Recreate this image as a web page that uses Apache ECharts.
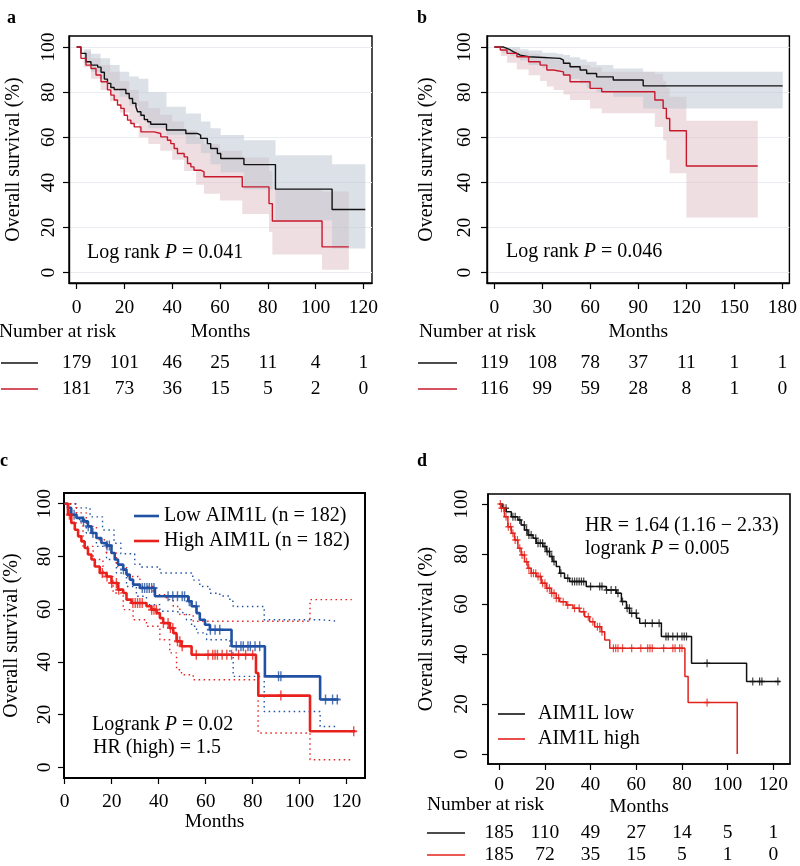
<!DOCTYPE html>
<html><head><meta charset="utf-8">
<script src="https://cdn.jsdelivr.net/npm/echarts@6/dist/echarts.min.js"></script>
<style>html,body{margin:0;padding:0;background:#fff}#c{width:800px;height:866px}</style>
</head><body><div id="c"></div>
<script>
// ================= DATA =================
const yTicks = [0, 20, 40, 60, 80, 100];
const ticksA = [0, 20, 40, 60, 80, 100, 120];
const ticksB = [0, 30, 60, 90, 120, 150, 180];
const ticksC = [0, 20, 40, 60, 80, 100, 120];
const ticksD = [0, 20, 40, 60, 80, 100, 120];

// Panel a
const aBlackT = [0,1.8,3.9,6,8.8,10.2,11.6,12.9,14.3,15.7,20.6,22,23.4,24.8,25.5,26.9,28.3,29.7,31,37.6,45.7,50.5,51.9,54.7,56.1,58.9,60.3,70,83.2,106.9,120.8];
const aBlackS = [100,97.2,93.5,92,91.1,88.8,85.8,83.9,82.1,81.2,79.4,77.2,75.1,73.5,71.3,69.8,67.9,66.9,65.8,63.2,61.7,61,59.5,57.2,55,52.8,50.6,47.9,37,28,28];
const aRedT = [0,1.8,3.9,6,8.1,10.2,12.9,14.3,15.7,17.1,18.5,19.9,21.3,22.7,24.1,26.9,32.4,35.2,38,39.4,40.8,42.2,45,46.4,47.8,49.1,51.9,53.3,69.3,80.5,81.9,102.7,113.9];
const aRedS = [100,95,92,90.5,87.6,84.6,81,78.7,76.5,74.3,72.8,69.8,67.6,66.1,64.6,62.4,61.7,60.2,58.7,57.2,55,52.8,51.3,48.4,46.9,45.4,44.7,42.5,38,30.6,22.9,11.4,11.4];
const aBlackBandT  = [0,3,6,10,14,18,22,26,30,37.6,45.7,52,56,60.3,70,83.2,106.9,120.8];
const aBlackBandHi = [100,99,97,95,92,89,87,86,80,73.5,70.5,67,64,61,58.7,52,48,48];
const aBlackBandLo = [100,93,89,86,82,78,74,69,64,61,57,53,48,44.5,37,23.2,10.7,10.7];
const aRedBandT  = [0,3,6,10,14,18,22,26,30,35,40,45,50,53.3,60,69.3,80.5,81.9,102.7,113.9];
const aRedBandHi = [100,98,95,92,89,85,81,76,73,70,67,63,60,57,54,51,45,37,36,36];
const aRedBandLo = [100,91,86,81,76,71,66,60,57,54,50,45,39,35,32,26,18,8,1.3,1.3];
const aRiskBlack = [179,101,46,25,11,4,1];
const aRiskRed   = [181,73,36,15,5,2,0];

// Panel b
const bBlackT = [0,5.8,7.9,10,12,14.1,16.2,21.4,41.1,43.2,47.3,53.6,57.7,63.9,74.3,93,180.2];
const bBlackS = [100,99.4,98.7,97.9,97.2,96.4,95.7,95,94.2,92.8,91.3,89.8,88.3,86.8,85.4,82.8,82.8];
const bRedT = [0,3.7,7.9,14.1,21.4,28.6,32.8,37,43.2,47.3,59.8,67.1,100.3,105.5,107.5,109.6,120,164.6];
const bRedS = [100,98.7,97.2,95.7,93.5,92,89.8,89,87.6,84.6,81.7,80.2,76.5,72.8,68.3,62.9,47.3,47.3];
const bBlackBandT  = [0,5,10,16,21.4,30,39,43,47.3,53.6,57.7,63.9,74.3,93,180.2];
const bBlackBandHi = [100,100,100,99,98.5,97.5,97,96.5,95.5,94.5,93.5,92,90.5,89,89];
const bBlackBandLo = [100,97.5,96,94,92,90.5,89,87.5,86,84,82,80,78,72.8,72.8];
const bRedBandT  = [0,4,8,14,21.4,28.6,32.8,37,43.2,47.3,59.8,67.1,100.3,105.5,107.5,109.6,120,164.6];
const bRedBandHi = [100,99.5,99,98,97,96,95,94.5,93.5,92,91,89,88,85,82,78,67.3,67.3];
const bRedBandLo = [100,96,93,90,87.5,85,82.5,81,79,76.5,72.8,70.6,64.6,58.7,50,44,24.4,24.4];
const bRiskBlack = [119,108,78,37,11,1,1];
const bRiskRed   = [116,99,59,28,8,1,0];

// Panel c
const cBlueT = [0,1.4,2.8,5,7.8,9.9,11.4,13.5,15.6,17.8,19.9,21.3,22.7,24.9,26.3,27.7,29.1,32,38.4,52.6,54,56.1,57.5,59.7,61.8,71,85.2,108.7,116.5];
const cBlueS = [100,98.4,95.8,94.6,93.3,91.4,88.9,87,85.1,84.1,81.3,78.8,76.9,75,73.1,71.2,69.3,68,64.9,63,61.1,58.5,56,54.1,52.2,45.9,34.5,25.7,25.7];
const cRedT = [0,1.4,2.8,4.3,5.7,7.1,8.5,9.9,11.4,12.8,14.9,17.8,19.9,22.7,24.9,26.3,28.4,34.8,36.9,39.1,40.5,41.9,44.7,46.2,47.6,49.7,54,81.4,82.4,104.4,123.6];
const cRedS = [100,95.8,92.7,90.1,87.6,85.7,83.2,80.7,78.8,76.2,73.7,72.4,69.9,67.4,66.1,63.6,62.3,61.1,59.8,58.5,56.6,54.7,52.8,50.9,47.8,45.9,42.7,35.8,27.2,13.7,13.7];
const cBlueHiT = [0,5,10.8,16.1,21,23.9,29.8,32.7,40.5,54.5,57.5,61.8,66,70.3,71.7,84.9,108.7,116.5];
const cBlueHiS = [100,98.4,95,90,85,81,77,76,73.7,71,68.6,66,65,63,61,56,55.4,55.4];
const cBlueLoT = [0,5,9.2,13.5,17.8,22,26.3,30.5,34.8,40.5,46.2,51.8,54,56.1,60.4,70.3,71.7,84.9,108.7,116.5];
const cBlueLoS = [100,94,88.9,83.8,78.8,73.7,68.6,64.9,61.7,59.2,58.5,56,53.5,51,48.4,43.4,34.5,21.2,15.5,15.5];
const cRedHiT = [0,5,9.2,13.5,17.8,22,26.3,32,37.6,43.3,46.2,49,54.7,104.4,122.2];
const cRedHiS = [100,96.5,91.4,86.3,81.3,76.2,72.4,68.6,65.5,63.6,61,57.9,55.4,63.6,63.6];
const cRedLoT = [0,2.8,7.8,12.1,16.3,20.6,24.9,29.1,34.8,40.5,44.7,47.6,49.7,54.7,82.3,104.4,122.2];
const cRedLoS = [100,92.7,83.8,78.8,72.4,66.1,59.8,56,53.5,48.4,43.4,37,35.1,33.2,13,2.9,2.9];
const cBlueCensor = [4,8,10,12,18,19,25,33,34,35,36,37,38,44,46,48,50,51,53,56,62,64,66,73,75,76,78,79,81,83,91,92,111,114,116];
const cRedCensor = [2,16,18,20,22,23,29,30,31,32,33,37,38,39,42,44,45,46,48,49,50,56,61,63,64,65,67,69,71,74,77,80,92,123];

// Panel d
const dBlackT = [0,1.6,3.1,5.3,8.2,9.6,11.1,12.6,14.8,16.2,19.1,20.6,22.1,23.5,25,26.5,28.6,30.8,38.1,46.9,51.3,53.5,55.7,57.1,60.1,61.5,71,84.2,108.3,122.9];
const dBlackS = [100,98.3,96.9,94.9,93.6,91.6,89.6,87.6,86.3,84.3,83,81,79,77,75,72.3,70.3,69,67,65.6,64.3,61,58.3,56.3,54.3,52.3,47,36.3,29,29];
const dRedT = [0,0.9,2.3,3.8,5.3,6.7,8.2,9.6,11.1,12.6,14,16.2,18.4,20.6,22.8,25,26.5,29.4,32.3,35.2,37.4,39.6,41.8,44.7,46.2,48.4,81.3,82.7,104.2];
const dRedS = [100,98.3,94.9,90.9,88.3,85.6,82.3,79.6,76.9,74.3,72.3,71,68.3,66.3,64.3,62.3,60.9,59.6,58.3,56.9,54.9,52.9,50.9,48.9,45.6,42.3,31,20.6,0];
const dBlackCensor = [3,6,7,9,11,12,13,14,16,17,18,19,20,21,22,23,24,27,30,32,33,34,35,36,37,40,44,45,47,49,51,52,54,56,57,58,60,64,67,70,73,74,76,78,80,81,82,91,111,114,115,122];
const dRedCensor = [0.5,1,2,3,4,5,6,7,8,9,10,11,12,13,14,15,16,17,18,19,20,21,22,23,24,25,26,28,30,33,35,37,39,41,43,44,45,50,51,52,54,58,62,65,66,67,72,76,77,79,80,91];
const dRiskBlack = [185,110,49,27,14,5,1];
const dRiskRed   = [185,72,35,15,5,1,0];

// ================= BUILD =================
const FONT = "'Liberation Serif','Times New Roman',serif";
const grids = [], xAxes = [], yAxes = [], series = [];
const zip = (T, S) => T.map((t, i) => [t, S[i]]);
function survAt(T, S, t) { let v = S[0]; for (let i = 0; i < T.length; i++) { if (T[i] <= t) v = S[i]; } return v; }
const PLUS = 'path://M4,0h2v4h4v2h-4v4h-2v-4h-4v-2h4z';

function addPanel(p) {
  const gi = grids.length;
  grids.push({left: p.left, top: p.top, width: p.width, height: p.height, show: true,
    borderColor: '#000', borderWidth: p.bw, backgroundColor: 'rgba(0,0,0,0)'});
  const xi = xAxes.length;
  xAxes.push({type: 'value', gridIndex: gi, min: p.xmin, max: p.xmax, position: 'bottom',
    name: 'Months', nameLocation: 'middle', nameGap: p.xNameGap, nameMoveOverlap: false,
    nameTextStyle: {fontFamily: FONT, fontSize: 19.5, color: '#000'},
    axisLine: {show: true, onZero: false, lineStyle: {color: '#000', width: p.bw}},
    axisTick: {show: true, length: 6, customValues: p.xticks, lineStyle: {color: '#000', width: 1.2}},
    axisLabel: {customValues: p.xticks, margin: p.xLabelMargin, fontFamily: FONT, fontSize: 19.5, color: '#000'},
    splitLine: {show: false}});
  const yi = yAxes.length;
  yAxes.push({type: 'value', gridIndex: gi, min: p.ymin, max: p.ymax, position: 'left',
    name: 'Overall survival (%)', nameLocation: 'middle', nameGap: p.yNameGap, nameRotate: 90, nameMoveOverlap: false,
    nameTextStyle: {fontFamily: FONT, fontSize: 20, color: '#000'},
    axisLine: {show: true, onZero: false, lineStyle: {color: '#000', width: p.bw}},
    axisTick: {show: true, length: 6, customValues: yTicks, lineStyle: {color: '#000', width: 1.2}},
    axisLabel: {customValues: yTicks, rotate: 90, margin: p.yLabelMargin, fontFamily: FONT, fontSize: 19.5, color: '#000'},
    splitLine: {show: false}});
  if (p.gridLines) {
    // separate, label-less axis that only carries the light horizontal grid lines
    yAxes.push({type: 'value', gridIndex: gi, min: p.ymin, max: p.ymax, position: 'right',
      axisLine: {show: false, onZero: false}, axisLabel: {show: false},
      axisTick: {show: false, customValues: yTicks},
      splitLine: {show: true, lineStyle: {color: '#e9edf2', width: 1}}});
  }
  if (p.risk) {
    p.risk.forEach((r) => {
      xAxes.push({type: 'value', gridIndex: gi, min: p.xmin, max: p.xmax, position: 'bottom', offset: r.offset,
        axisLine: {show: false, onZero: false}, axisTick: {show: false}, splitLine: {show: false},
        axisLabel: {customValues: p.xticks, margin: 0, verticalAlign: 'middle',
          formatter: (v) => String(r.values[p.xticks.indexOf(v)]),
          fontFamily: FONT, fontSize: 19.5, color: '#000'},
        name: '{l| }', nameLocation: 'start', nameGap: p.riskGap, nameMoveOverlap: false,
        nameTextStyle: {verticalAlign: 'middle', rich: {l: {width: p.riskLineW, height: 1.4, backgroundColor: r.color, fontSize: 2, lineHeight: 1.4}}}
      });
    });
  }
  return {xi, yi};
}

function band(ax, T, Lo, Hi, color) {
  series.push({type: 'custom', xAxisIndex: ax.xi, yAxisIndex: ax.yi, silent: true, z: 1,
    data: [[T[0], Hi[0]]],
    renderItem: function (params, api) {
      const pts = [];
      for (let i = 0; i < T.length - 1; i++) { pts.push(api.coord([T[i], Hi[i]])); pts.push(api.coord([T[i + 1], Hi[i]])); }
      for (let i = T.length - 2; i >= 0; i--) { pts.push(api.coord([T[i + 1], Lo[i]])); pts.push(api.coord([T[i], Lo[i]])); }
      return {type: 'polygon', shape: {points: pts}, style: {fill: color}};
    }});
}
function curve(ax, name, T, S, color, width, extra) {
  series.push(Object.assign({type: 'line', name: name, xAxisIndex: ax.xi, yAxisIndex: ax.yi, step: 'end',
    symbol: 'none', data: zip(T, S), lineStyle: {color: color, width: width}, itemStyle: {color: color},
    silent: true, z: 5}, extra || {}));
}
function censor(ax, T, S, C, color, size) {
  series.push({type: 'scatter', xAxisIndex: ax.xi, yAxisIndex: ax.yi, symbol: PLUS, symbolSize: size,
    itemStyle: {color: color}, silent: true, z: 6, data: C.map((t) => [t, survAt(T, S, t)])});
}

const BLACK = '#111111', RED_AB = '#c8182c';
const BAND_GRAY = 'rgba(185,196,208,0.5)', BAND_PINK = 'rgba(222,190,196,0.5)';

// ---- a ----
const A = addPanel({left: 68, top: 36, width: 304, height: 247, bw: 1.4, xmin: -3.2, xmax: 123.6, ymin: -4.6, ymax: 104.9,
  xticks: ticksA, xNameGap: 39, xLabelMargin: 15, yNameGap: 45, yLabelMargin: 10.5, gridLines: true,
  risk: [{offset: 80, values: aRiskBlack, color: BLACK}, {offset: 106, values: aRiskRed, color: RED_AB}], riskGap: 31, riskLineW: 37});
band(A, aRedBandT, aRedBandLo, aRedBandHi, BAND_PINK);
band(A, aBlackBandT, aBlackBandLo, aBlackBandHi, BAND_GRAY);
curve(A, 'a-black', aBlackT, aBlackS, BLACK, 1.4);
curve(A, 'a-red', aRedT, aRedS, RED_AB, 1.4);

// ---- b ----
const B = addPanel({left: 487, top: 36, width: 303, height: 247, bw: 1.4, xmin: -4.6, xmax: 184.4, ymin: -4.6, ymax: 104.9,
  xticks: ticksB, xNameGap: 39, xLabelMargin: 15, yNameGap: 50, yLabelMargin: 12.5, gridLines: true,
  risk: [{offset: 80, values: bRiskBlack, color: BLACK}, {offset: 106, values: bRiskRed, color: RED_AB}], riskGap: 30, riskLineW: 39});
band(B, bRedBandT, bRedBandLo, bRedBandHi, BAND_PINK);
band(B, bBlackBandT, bBlackBandLo, bBlackBandHi, BAND_GRAY);
curve(B, 'b-black', bBlackT, bBlackS, BLACK, 1.4);
curve(B, 'b-red', bRedT, bRedS, RED_AB, 1.4);

// ---- c ----
const BLUE_C = '#2051a3', RED_C = '#e8211d';
const C = addPanel({left: 64, top: 493, width: 301, height: 285, bw: 2, xmin: -0.3, xmax: 127.8, ymin: -4.05, ymax: 104.05,
  xticks: ticksC, xNameGap: 34, xLabelMargin: 14, yNameGap: 42, yLabelMargin: 9, gridLines: false});
const DOT = {type: [1.5, 3.5]};
curve(C, 'c-blue-hi', cBlueHiT, cBlueHiS, BLUE_C, 1.4, {lineStyle: Object.assign({color: BLUE_C, width: 1.4}, DOT), z: 3});
curve(C, 'c-blue-lo', cBlueLoT, cBlueLoS, BLUE_C, 1.4, {lineStyle: Object.assign({color: BLUE_C, width: 1.4}, DOT), z: 3});
curve(C, 'c-red-hi', cRedHiT, cRedHiS, RED_C, 1.4, {lineStyle: Object.assign({color: RED_C, width: 1.4}, DOT), z: 3});
curve(C, 'c-red-lo', cRedLoT, cRedLoS, RED_C, 1.4, {lineStyle: Object.assign({color: RED_C, width: 1.4}, DOT), z: 3});
curve(C, 'Low AIM1L (n = 182)', cBlueT, cBlueS, BLUE_C, 2.6);
curve(C, 'High AIM1L (n = 182)', cRedT, cRedS, RED_C, 2.6);
censor(C, cBlueT, cBlueS, cBlueCensor, BLUE_C, [7, 10]);
censor(C, cRedT, cRedS, cRedCensor, RED_C, [7, 10]);

// ---- d ----
const RED_D = '#e2231c';
const D = addPanel({left: 488, top: 494, width: 302, height: 270, bw: 1.6, xmin: -4.9, xmax: 127.3, ymin: -4, ymax: 104,
  xticks: ticksD, xNameGap: 33, xLabelMargin: 11, yNameGap: 51, yLabelMargin: 16, gridLines: false,
  risk: [{offset: 69, values: dRiskBlack, color: BLACK}, {offset: 91, values: dRiskRed, color: RED_D}], riskGap: 23, riskLineW: 38});
curve(D, 'AIM1L low', dBlackT, dBlackS, BLACK, 1.5);
curve(D, 'AIM1L high', dRedT, dRedS, RED_D, 1.5);
censor(D, dBlackT, dBlackS, dBlackCensor, BLACK, [6, 8]);
censor(D, dRedT, dRedS, dRedCensor, RED_D, [6, 8]);

// ---- texts ----
function txt(x, y, text, extra) {
  return {type: 'text', x: x, y: y, silent: true, z: 100,
    style: Object.assign({text: text, fill: '#000', fontFamily: FONT, fontSize: 20, align: 'left', verticalAlign: 'middle',
      rich: {i: {fontStyle: 'italic', fontFamily: FONT, fontSize: 20, fill: '#000'}}}, extra || {})};
}
const graphic = [
  txt(7, 18, 'a', {fontWeight: 'bold', fontSize: 18}),
  txt(417, 18, 'b', {fontWeight: 'bold', fontSize: 18}),
  txt(0, 461, 'c', {fontWeight: 'bold', fontSize: 18}),
  txt(417, 461, 'd', {fontWeight: 'bold', fontSize: 18}),
  txt(87, 253, 'Log rank {i|P} = 0.041'),
  txt(506, 252, 'Log rank {i|P} = 0.046'),
  txt(92, 725, 'Logrank {i|P} = 0.02'),
  txt(93, 748, 'HR (high) = 1.5'),
  txt(585, 526, 'HR = 1.64 (1.16 \u2212 2.33)'),
  txt(585, 549, 'logrank {i|P} = 0.005'),
  txt(-1, 332, 'Number at risk', {fontSize: 19.5}),
  txt(419, 332, 'Number at risk', {fontSize: 19.5}),
  txt(427, 805, 'Number at risk', {fontSize: 19.5})
];

const chart = echarts.init(document.getElementById('c'), null, {renderer: 'canvas'});
chart.setOption({
  animation: false,
  backgroundColor: '#fff',
  grid: grids, xAxis: xAxes, yAxis: yAxes, series: series, graphic: graphic,
  legend: [
    {data: ['Low AIM1L (n = 182)', 'High AIM1L (n = 182)'], orient: 'vertical', left: 134, top: 506,
      icon: 'rect', itemWidth: 25, itemHeight: 2.6, itemGap: 5, padding: 0, selectedMode: false,
      textStyle: {fontFamily: FONT, fontSize: 20, color: '#000', lineHeight: 20}},
    {data: ['AIM1L low', 'AIM1L high'], orient: 'vertical', left: 498, top: 704,
      icon: 'rect', itemWidth: 27, itemHeight: 1.6, itemGap: 5, padding: 0, selectedMode: false,
      textStyle: {fontFamily: FONT, fontSize: 20, color: '#000', lineHeight: 20, padding: [0, 0, 0, 8]}}
  ]
});
</script></body></html>
